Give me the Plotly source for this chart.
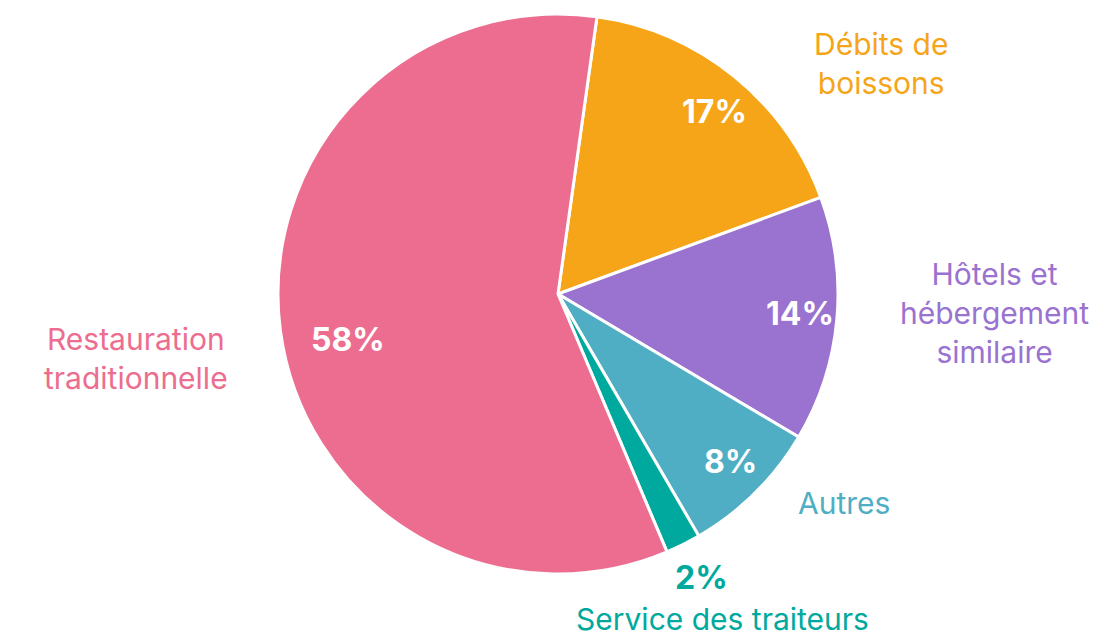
import plotly.graph_objects as go

categories = ["Débits de boissons", "Hôtels et hébergement similaire", "Autres",
              "Service des traiteurs", "Restauration traditionnelle"]
values = [17, 14, 8, 2, 58]
display_labels = ["Débits de<br>boissons", "Hôtels et<br>hébergement<br>similaire", "Autres",
                  "Service des traiteurs", "Restauration<br>traditionnelle"]
colors = ["#F6A519", "#9A72CF", "#4FAEC3", "#00A99D", "#EC6D8F"]

FONT = "Inter"

fig = go.Figure(go.Pie(
    labels=categories,
    values=values,
    sort=False,
    direction="clockwise",
    rotation=8,
    textinfo="none",
    marker=dict(colors=colors, line=dict(color="white", width=3)),
    hoverinfo="label+percent",
    domain=dict(x=[270/1102, 830/1102], y=[1-566/637, 1-6/637]),
    showlegend=False,
))

# outside category labels (paper positions)
label_pos = [(873, 55), (986, 305), (836, 495), (714, 611), (128, 351)]
for lab, col, (px, py) in zip(display_labels, colors, label_pos):
    fig.add_annotation(x=px/1102, y=1-py/637, xref="paper", yref="paper",
                       text=lab, showarrow=False, align="center",
                       font=dict(family=FONT, size=30, color=col),
                       xanchor="center", yanchor="middle")

# percentage labels
pct_pos = [(706, 103), (792, 305), (722, 453), (693, 569), (340, 331)]
pct_colors = ["white", "white", "white", colors[3], "white"]
for v, col, (px, py) in zip(values, pct_colors, pct_pos):
    fig.add_annotation(x=px/1102, y=1-py/637, xref="paper", yref="paper",
                       text=f"{v}%", showarrow=False,
                       font=dict(family=FONT, size=32, color=col, weight="bold"),
                       xanchor="center", yanchor="middle")

fig.update_layout(
    width=1102, height=637,
    margin=dict(l=0, r=0, t=0, b=0),
    paper_bgcolor="white", plot_bgcolor="white",
)

fig.write_html("out.html")
